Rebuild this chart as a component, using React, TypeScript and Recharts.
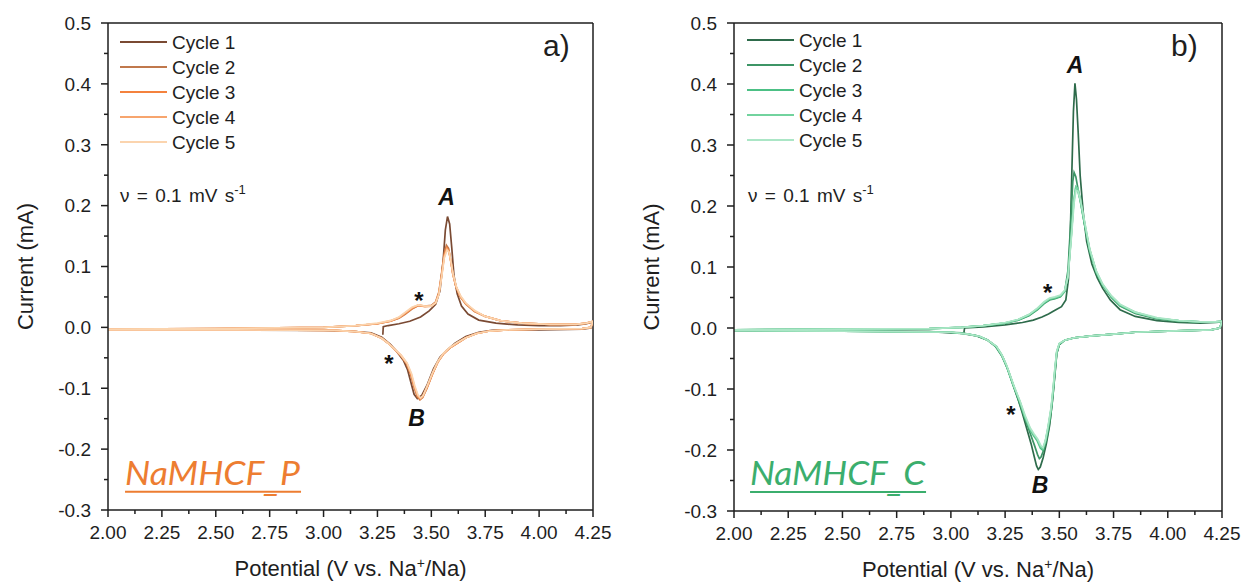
import React from 'react';
import { LineChart, Line, XAxis, YAxis, ReferenceLine, ReferenceDot, Legend } from 'recharts';

const FONT = '"Liberation Sans", Arial, sans-serif';
const INK = '#1e1e1e';

// ---------- axes ----------
const xTicks = [2, 2.125, 2.25, 2.375, 2.5, 2.625, 2.75, 2.875, 3, 3.125, 3.25, 3.375, 3.5, 3.625, 3.75, 3.875, 4, 4.125, 4.25];
const xMajor = [2, 2.25, 2.5, 2.75, 3, 3.25, 3.5, 3.75, 4, 4.25];
const yTicks = [-0.3, -0.25, -0.2, -0.15, -0.1, -0.05, 0, 0.05, 0.1, 0.15, 0.2, 0.25, 0.3, 0.35, 0.4, 0.45, 0.5];
const yMajor = [-0.3, -0.2, -0.1, 0, 0.1, 0.2, 0.3, 0.4, 0.5];

const cycleNames = ['Cycle 1', 'Cycle 2', 'Cycle 3', 'Cycle 4', 'Cycle 5'];
const pColors = ['#7a4a33', '#c0784c', '#f4823d', '#f7a56e', '#fbd4ae'];
const cColors = ['#2e6b4b', '#3d9566', '#4cc085', '#72d39e', '#abe6c6'];

type Pt = [number, number];

// ---------- NaMHCF_P (potential V, current mA) ----------
const pCycle1: Pt[] = [
  [3.275, -0.012], [3.277, 0.001], [3.30, 0.003], [3.35, 0.006], [3.40, 0.010], [3.45, 0.017], [3.49, 0.027], [3.52, 0.038],
  [3.54, 0.060], [3.555, 0.110], [3.565, 0.160], [3.575, 0.182], [3.585, 0.170], [3.595, 0.130], [3.605, 0.085], [3.62, 0.055],
  [3.64, 0.035], [3.67, 0.022], [3.72, 0.012], [3.80, 0.007], [3.90, 0.004], [4.00, 0.003], [4.10, 0.003], [4.18, 0.004],
  [4.22, 0.006], [4.25, 0.009],
  [4.24, -0.001], [4.20, -0.003], [4.00, -0.004], [3.85, -0.004], [3.78, -0.005], [3.72, -0.008], [3.66, -0.015], [3.61, -0.026],
  [3.57, -0.038], [3.54, -0.049], [3.51, -0.068], [3.48, -0.095], [3.455, -0.112], [3.435, -0.117], [3.42, -0.110], [3.405, -0.090],
  [3.39, -0.070], [3.37, -0.054], [3.34, -0.040], [3.31, -0.028], [3.27, -0.016], [3.22, -0.009], [3.12, -0.006], [3.00, -0.005],
  [2.50, -0.004], [2.00, -0.004],
];
const pCycle2: Pt[] = [
  [2.00, -0.003], [2.50, -0.002], [3.00, 0.000], [3.15, 0.003], [3.25, 0.006], [3.31, 0.010], [3.35, 0.015], [3.38, 0.022],
  [3.41, 0.030], [3.44, 0.036], [3.47, 0.035], [3.50, 0.036], [3.52, 0.042], [3.535, 0.058], [3.548, 0.090], [3.56, 0.122],
  [3.57, 0.135], [3.58, 0.130], [3.59, 0.110], [3.60, 0.088], [3.615, 0.066], [3.635, 0.050], [3.66, 0.038], [3.70, 0.026],
  [3.75, 0.018], [3.82, 0.011], [3.92, 0.007], [4.05, 0.005], [4.17, 0.005], [4.22, 0.007], [4.25, 0.010],
  [4.24, 0.000], [4.20, -0.002], [4.00, -0.003], [3.85, -0.004], [3.77, -0.006], [3.71, -0.010], [3.66, -0.017], [3.62, -0.026],
  [3.585, -0.034], [3.555, -0.044], [3.53, -0.057], [3.505, -0.077], [3.48, -0.100], [3.46, -0.115], [3.447, -0.119], [3.435, -0.114],
  [3.42, -0.098], [3.405, -0.078], [3.385, -0.060], [3.36, -0.047], [3.33, -0.036], [3.30, -0.026], [3.27, -0.018], [3.22, -0.010],
  [3.15, -0.007], [3.05, -0.005], [2.50, -0.004], [2.00, -0.004],
];
const pCycle3: Pt[] = [
  [2.00, -0.003], [2.50, -0.002], [3.00, 0.000], [3.15, 0.003], [3.25, 0.006], [3.31, 0.010], [3.35, 0.016], [3.38, 0.023],
  [3.41, 0.031], [3.44, 0.036], [3.47, 0.034], [3.50, 0.035], [3.52, 0.041], [3.535, 0.056], [3.548, 0.087], [3.56, 0.118],
  [3.571, 0.131], [3.581, 0.126], [3.591, 0.107], [3.60, 0.087], [3.615, 0.066], [3.635, 0.050], [3.66, 0.039], [3.70, 0.027],
  [3.75, 0.018], [3.82, 0.011], [3.92, 0.007], [4.05, 0.005], [4.17, 0.005], [4.22, 0.007], [4.25, 0.010],
  [4.24, 0.000], [4.20, -0.002], [4.00, -0.003], [3.85, -0.004], [3.77, -0.006], [3.71, -0.010], [3.66, -0.017], [3.62, -0.026],
  [3.585, -0.034], [3.555, -0.044], [3.53, -0.057], [3.505, -0.077], [3.48, -0.099], [3.46, -0.114], [3.448, -0.118], [3.436, -0.113],
  [3.42, -0.097], [3.405, -0.077], [3.385, -0.059], [3.36, -0.047], [3.33, -0.036], [3.30, -0.026], [3.27, -0.018], [3.22, -0.010],
  [3.15, -0.007], [3.05, -0.005], [2.50, -0.004], [2.00, -0.004],
];
const pCycle4: Pt[] = [
  [2.00, -0.003], [2.50, -0.002], [3.00, 0.000], [3.15, 0.003], [3.25, 0.006], [3.31, 0.011], [3.35, 0.016], [3.38, 0.024],
  [3.41, 0.032], [3.44, 0.037], [3.47, 0.035], [3.50, 0.035], [3.52, 0.040], [3.535, 0.055], [3.548, 0.085], [3.56, 0.116],
  [3.572, 0.129], [3.582, 0.124], [3.592, 0.105], [3.60, 0.087], [3.615, 0.067], [3.635, 0.051], [3.66, 0.039], [3.70, 0.027],
  [3.75, 0.018], [3.82, 0.011], [3.92, 0.007], [4.05, 0.005], [4.17, 0.005], [4.22, 0.007], [4.25, 0.010],
  [4.24, 0.000], [4.20, -0.002], [4.00, -0.003], [3.85, -0.004], [3.77, -0.006], [3.71, -0.010], [3.66, -0.017], [3.62, -0.026],
  [3.585, -0.034], [3.555, -0.044], [3.53, -0.057], [3.505, -0.076], [3.48, -0.098], [3.46, -0.113], [3.449, -0.117], [3.437, -0.112],
  [3.422, -0.097], [3.407, -0.077], [3.387, -0.059], [3.36, -0.046], [3.33, -0.036], [3.30, -0.026], [3.27, -0.018], [3.22, -0.010],
  [3.15, -0.007], [3.05, -0.005], [2.50, -0.004], [2.00, -0.004],
];
const pCycle5: Pt[] = [
  [2.00, -0.003], [2.50, -0.002], [3.00, 0.000], [3.15, 0.003], [3.25, 0.007], [3.31, 0.011], [3.35, 0.017], [3.38, 0.025],
  [3.41, 0.033], [3.44, 0.037], [3.47, 0.035], [3.50, 0.035], [3.52, 0.040], [3.535, 0.054], [3.548, 0.083], [3.56, 0.114],
  [3.573, 0.127], [3.583, 0.123], [3.593, 0.104], [3.602, 0.086], [3.617, 0.066], [3.637, 0.051], [3.66, 0.040], [3.70, 0.028],
  [3.75, 0.018], [3.82, 0.011], [3.92, 0.007], [4.05, 0.005], [4.17, 0.005], [4.22, 0.007], [4.25, 0.010],
  [4.24, 0.000], [4.20, -0.002], [4.00, -0.003], [3.85, -0.004], [3.77, -0.006], [3.71, -0.010], [3.66, -0.017], [3.62, -0.025],
  [3.585, -0.033], [3.555, -0.043], [3.53, -0.056], [3.505, -0.075], [3.48, -0.097], [3.462, -0.112], [3.45, -0.116], [3.438, -0.111],
  [3.423, -0.096], [3.408, -0.076], [3.388, -0.059], [3.36, -0.046], [3.33, -0.036], [3.30, -0.026], [3.27, -0.018], [3.22, -0.010],
  [3.15, -0.007], [3.05, -0.005], [2.50, -0.004], [2.00, -0.004],
];

// ---------- NaMHCF_C (potential V, current mA) ----------
const cCycle1: Pt[] = [
  [3.06, -0.008], [3.063, 0.000], [3.15, 0.002], [3.25, 0.005], [3.33, 0.009], [3.38, 0.013], [3.42, 0.018], [3.45, 0.023],
  [3.48, 0.029], [3.51, 0.035], [3.53, 0.046], [3.542, 0.080], [3.551, 0.160], [3.558, 0.260], [3.565, 0.355], [3.572, 0.401],
  [3.579, 0.375], [3.587, 0.320], [3.596, 0.250], [3.61, 0.190], [3.626, 0.142], [3.65, 0.105], [3.675, 0.082], [3.70, 0.065],
  [3.735, 0.046], [3.78, 0.030], [3.85, 0.019], [3.95, 0.012], [4.05, 0.009], [4.15, 0.008], [4.22, 0.009], [4.25, 0.010],
  [4.24, 0.000], [4.20, -0.003], [4.00, -0.005], [3.85, -0.007], [3.75, -0.010], [3.65, -0.013], [3.57, -0.016], [3.525, -0.020],
  [3.50, -0.027], [3.488, -0.042], [3.48, -0.075], [3.468, -0.120], [3.455, -0.160], [3.44, -0.190], [3.425, -0.213], [3.412, -0.228],
  [3.403, -0.232], [3.395, -0.226], [3.385, -0.212], [3.37, -0.190], [3.35, -0.165], [3.33, -0.140], [3.31, -0.117], [3.29, -0.096],
  [3.265, -0.070], [3.24, -0.048], [3.21, -0.031], [3.17, -0.020], [3.12, -0.013], [3.05, -0.009], [2.90, -0.006], [2.50, -0.005],
  [2.00, -0.004],
];
const cCycle2: Pt[] = [
  [2.00, -0.003], [2.50, -0.002], [2.90, -0.001], [3.05, 0.001], [3.15, 0.004], [3.25, 0.008], [3.31, 0.013], [3.36, 0.020],
  [3.40, 0.030], [3.43, 0.040], [3.455, 0.046], [3.48, 0.048], [3.505, 0.051], [3.525, 0.060], [3.54, 0.095], [3.552, 0.170],
  [3.562, 0.240], [3.568, 0.255], [3.576, 0.248], [3.586, 0.228], [3.60, 0.203], [3.615, 0.172], [3.64, 0.128], [3.67, 0.092],
  [3.70, 0.070], [3.74, 0.050], [3.78, 0.036], [3.85, 0.024], [3.95, 0.015], [4.05, 0.011], [4.15, 0.010], [4.22, 0.010], [4.25, 0.011],
  [4.24, 0.000], [4.20, -0.003], [4.00, -0.005], [3.85, -0.007], [3.75, -0.010], [3.65, -0.013], [3.57, -0.016], [3.525, -0.020],
  [3.50, -0.027], [3.488, -0.042], [3.48, -0.072], [3.47, -0.112], [3.458, -0.150], [3.443, -0.180], [3.428, -0.200], [3.415, -0.212],
  [3.408, -0.214], [3.40, -0.208], [3.385, -0.192], [3.365, -0.172], [3.345, -0.152], [3.325, -0.132], [3.305, -0.112], [3.285, -0.092],
  [3.26, -0.066], [3.235, -0.046], [3.205, -0.030], [3.165, -0.019], [3.12, -0.013], [3.05, -0.008], [2.90, -0.006], [2.50, -0.005],
  [2.00, -0.004],
];
const cCycle3: Pt[] = [
  [2.00, -0.003], [2.50, -0.002], [2.90, -0.001], [3.05, 0.001], [3.15, 0.004], [3.25, 0.008], [3.31, 0.013], [3.36, 0.021],
  [3.40, 0.031], [3.43, 0.041], [3.455, 0.047], [3.48, 0.049], [3.505, 0.052], [3.525, 0.060], [3.54, 0.085], [3.555, 0.150],
  [3.566, 0.205], [3.575, 0.228], [3.584, 0.226], [3.595, 0.211], [3.61, 0.182], [3.64, 0.126], [3.67, 0.091], [3.70, 0.070],
  [3.74, 0.051], [3.78, 0.037], [3.85, 0.025], [3.95, 0.016], [4.05, 0.012], [4.15, 0.010], [4.22, 0.010], [4.25, 0.011],
  [4.24, 0.000], [4.20, -0.003], [4.00, -0.005], [3.85, -0.007], [3.75, -0.010], [3.65, -0.013], [3.57, -0.016], [3.525, -0.020],
  [3.50, -0.026], [3.488, -0.040], [3.48, -0.068], [3.472, -0.100], [3.462, -0.134], [3.448, -0.165], [3.435, -0.188], [3.423, -0.200],
  [3.413, -0.197], [3.398, -0.185], [3.38, -0.176], [3.365, -0.167], [3.34, -0.145], [3.32, -0.123], [3.29, -0.096], [3.257, -0.063],
  [3.235, -0.045], [3.21, -0.031], [3.17, -0.020], [3.134, -0.014], [3.08, -0.010], [3.00, -0.007], [2.50, -0.005], [2.00, -0.004],
];
const cCycle4: Pt[] = [
  [2.00, -0.003], [2.50, -0.002], [2.90, -0.001], [3.05, 0.001], [3.15, 0.004], [3.25, 0.008], [3.31, 0.014], [3.36, 0.022],
  [3.40, 0.032], [3.43, 0.042], [3.455, 0.048], [3.48, 0.050], [3.505, 0.053], [3.525, 0.061], [3.54, 0.086], [3.555, 0.152],
  [3.567, 0.210], [3.576, 0.232], [3.585, 0.229], [3.596, 0.213], [3.61, 0.185], [3.64, 0.129], [3.67, 0.093], [3.70, 0.071],
  [3.74, 0.052], [3.78, 0.038], [3.85, 0.026], [3.95, 0.016], [4.05, 0.012], [4.15, 0.010], [4.22, 0.010], [4.25, 0.011],
  [4.24, 0.000], [4.20, -0.003], [4.00, -0.005], [3.85, -0.007], [3.75, -0.010], [3.65, -0.013], [3.57, -0.016], [3.525, -0.020],
  [3.50, -0.026], [3.488, -0.039], [3.48, -0.066], [3.472, -0.098], [3.462, -0.132], [3.448, -0.163], [3.435, -0.186], [3.424, -0.198],
  [3.414, -0.195], [3.399, -0.183], [3.38, -0.174], [3.365, -0.165], [3.34, -0.144], [3.32, -0.122], [3.29, -0.095], [3.257, -0.062],
  [3.235, -0.044], [3.21, -0.030], [3.17, -0.020], [3.134, -0.014], [3.08, -0.010], [3.00, -0.007], [2.50, -0.005], [2.00, -0.004],
];
const cCycle5: Pt[] = [
  [2.00, -0.003], [2.50, -0.002], [2.90, -0.001], [3.05, 0.001], [3.15, 0.004], [3.25, 0.009], [3.31, 0.014], [3.36, 0.022],
  [3.40, 0.033], [3.43, 0.043], [3.455, 0.049], [3.48, 0.051], [3.505, 0.054], [3.525, 0.062], [3.54, 0.084], [3.555, 0.146],
  [3.568, 0.205], [3.577, 0.226], [3.586, 0.224], [3.597, 0.210], [3.612, 0.183], [3.64, 0.130], [3.67, 0.094], [3.70, 0.072],
  [3.74, 0.053], [3.78, 0.039], [3.85, 0.026], [3.95, 0.017], [4.05, 0.012], [4.15, 0.010], [4.22, 0.010], [4.25, 0.011],
  [4.24, 0.000], [4.20, -0.003], [4.00, -0.005], [3.85, -0.007], [3.75, -0.010], [3.65, -0.013], [3.57, -0.016], [3.525, -0.020],
  [3.50, -0.025], [3.488, -0.038], [3.48, -0.064], [3.472, -0.096], [3.462, -0.130], [3.448, -0.161], [3.436, -0.184], [3.425, -0.196],
  [3.415, -0.193], [3.40, -0.182], [3.382, -0.173], [3.366, -0.164], [3.342, -0.143], [3.32, -0.121], [3.29, -0.094], [3.257, -0.061],
  [3.235, -0.044], [3.21, -0.030], [3.17, -0.020], [3.134, -0.014], [3.08, -0.010], [3.00, -0.007], [2.50, -0.005], [2.00, -0.004],
];

const pCycles = [pCycle1, pCycle2, pCycle3, pCycle4, pCycle5];
const cCycles = [cCycle1, cCycle2, cCycle3, cCycle4, cCycle5];

const toRows = (pts: Pt[]) => pts.map(([v, i]) => ({ v, i }));
const isMajor = (v: number, majors: number[]) => majors.some((m) => Math.abs(m - v) < 1e-9);

// ---------- rendering helpers ----------
const XTick = (props: any) => {
  const { x, y, payload } = props;
  const v = payload.value;
  const major = isMajor(v, xMajor);
  return (
    <g>
      <line x1={x} x2={x} y1={y} y2={y + (major ? 7 : 4)} stroke={INK} strokeWidth={1.5} />
      {major && (
        <text x={x} y={y + 29} textAnchor="middle" fontFamily={FONT} fontSize={19} fill={INK}>
          {v.toFixed(2)}
        </text>
      )}
    </g>
  );
};

const YTick = (props: any) => {
  const { x, y, payload } = props;
  const v = payload.value;
  const major = isMajor(v, yMajor);
  return (
    <g>
      <line x1={x - (major ? 7 : 4)} x2={x} y1={y} y2={y} stroke={INK} strokeWidth={1.5} />
      {major && (
        <text x={x - 17} y={y} dy="0.36em" textAnchor="end" fontFamily={FONT} fontSize={19} fill={INK}>
          {v.toFixed(1)}
        </text>
      )}
    </g>
  );
};

const XTitle = (props: any) => {
  const vb = props.viewBox || {};
  const cx = vb.x + vb.width / 2;
  const y = vb.y + 66;
  return (
    <text x={cx} y={y} textAnchor="middle" fontFamily={FONT} fontSize={22} fill={INK}>
      Potential (V vs. Na
      <tspan dy={-8} fontSize={14}>+</tspan>
      <tspan dy={8}>/Na)</tspan>
    </text>
  );
};

const YTitle = (props: any) => {
  const vb = props.viewBox || {};
  const x = vb.x + vb.width - 83;
  const cy = vb.y + vb.height / 2;
  return (
    <text x={x} y={cy} dy="0.36em" transform={`rotate(-90 ${x} ${cy})`} textAnchor="middle" fontFamily={FONT} fontSize={22} fill={INK}>
      Current (mA)
    </text>
  );
};

const LegendBox = (props: any) => {
  const payload = props.payload || [];
  return (
    <div style={{ fontFamily: FONT, fontSize: 19, color: INK }}>
      {payload.map((p: any) => (
        <div key={p.value} style={{ display: 'flex', alignItems: 'center', height: 25 }}>
          <svg width={47} height={4} style={{ marginRight: 5, display: 'block' }}>
            <line x1={0} x2={47} y1={2} y2={2} stroke={p.color} strokeWidth={2} />
          </svg>
          <span style={{ lineHeight: '25px' }}>{p.value}</span>
        </div>
      ))}
    </div>
  );
};

const letter = (t: string, size: number, shift: string) => (p: any) => (
  <text x={p.cx} y={p.cy} dy={shift} textAnchor="middle" fontFamily={FONT} fontSize={size} fontWeight="bold" fontStyle="italic" fill="#111">
    {t}
  </text>
);

const plainText = (t: string, size: number) => (p: any) => (
  <text x={p.cx} y={p.cy} textAnchor="start" fontFamily={FONT} fontSize={size} fill={INK}>
    {t}
  </text>
);

const rateText = (p: any) => (
  <text x={p.cx} y={p.cy} textAnchor="start" fontFamily={FONT} fontSize={19} fill={INK} wordSpacing={2}>
    ν = 0.1 mV s
    <tspan dy={-8} fontSize={13}>-1</tspan>
  </text>
);

const nameText = (stem: string, suffix: string, color: string) => (p: any) => (
  <g>
    <text x={p.cx} y={p.cy} textAnchor="start" fontFamily="Lato, 'Open Sans', sans-serif" fontStyle="italic" fontSize={32} fill={color} textLength={175} lengthAdjust="spacingAndGlyphs">
      {stem}
      <tspan dy={6}>_</tspan>
      <tspan dy={-6}>{suffix}</tspan>
    </text>
    <line x1={p.cx} x2={p.cx + 176} y1={p.cy + 7} y2={p.cy + 7} stroke={color} strokeWidth={2} />
  </g>
);

type PanelProps = {
  cycles: Pt[][];
  colors: string[];
  width: number;
  margin: { top: number; right: number; bottom: number; left: number };
  tag: string;
  tagAt: Pt;
  nameStem: string;
  nameSuffix: string;
  nameColor: string;
  nameAt: Pt;
  rateAt: Pt;
  aAt: Pt;
  bAt: Pt;
  star1: Pt;
  star2: Pt;
  legendLeft: number;
  legendTop: number;
};

function Panel(props: PanelProps) {
  const { cycles, colors, width, margin } = props;
  return (
    <LineChart width={width} height={584} margin={margin}>
      <XAxis
        type="number"
        dataKey="v"
        domain={[2, 4.25]}
        ticks={xTicks}
        interval={0}
        allowDataOverflow
        tick={<XTick />}
        tickLine={false}
        tickSize={0}
        tickMargin={0}
        height={40}
        axisLine={{ stroke: INK, strokeWidth: 1.5 }}
        label={<XTitle />}
      />
      <YAxis
        type="number"
        domain={[-0.3, 0.5]}
        ticks={yTicks}
        interval={0}
        allowDataOverflow
        tick={<YTick />}
        tickLine={false}
        tickSize={0}
        tickMargin={0}
        width={60}
        axisLine={{ stroke: INK, strokeWidth: 1.5 }}
        label={<YTitle />}
      />
      <ReferenceLine y={0.5} stroke={INK} strokeWidth={1.5} />
      <ReferenceLine x={4.25} stroke={INK} strokeWidth={1.5} />
      {cycles.map((pts, k) => (
        <Line
          key={cycleNames[k]}
          name={cycleNames[k]}
          data={toRows(pts)}
          dataKey="i"
          type="linear"
          stroke={colors[k]}
          strokeWidth={1.7}
          dot={false}
          activeDot={false}
          isAnimationActive={false}
        />
      ))}
      <Legend
        layout="vertical"
        align="center"
        verticalAlign="middle"
        content={(lp: any) => <LegendBox payload={lp.payload} />}
        wrapperStyle={{ left: props.legendLeft, top: props.legendTop, width: 'auto' }}
      />
      <ReferenceDot x={props.tagAt[0]} y={props.tagAt[1]} r={0} shape={plainText(props.tag, 30)} />
      <ReferenceDot x={props.rateAt[0]} y={props.rateAt[1]} r={0} shape={rateText} />
      <ReferenceDot x={props.nameAt[0]} y={props.nameAt[1]} r={0} shape={nameText(props.nameStem, props.nameSuffix, props.nameColor)} />
      <ReferenceDot x={props.aAt[0]} y={props.aAt[1]} r={0} shape={letter('A', 23, '0.36em')} />
      <ReferenceDot x={props.bAt[0]} y={props.bAt[1]} r={0} shape={letter('B', 23, '0.36em')} />
      <ReferenceDot x={props.star1[0]} y={props.star1[1]} r={0} shape={letter('*', 24, '0.55em')} />
      <ReferenceDot x={props.star2[0]} y={props.star2[1]} r={0} shape={letter('*', 24, '0.55em')} />
    </LineChart>
  );
}

export default function App() {
  return (
    <div style={{ position: 'absolute', left: 0, top: 0, width: 1244, height: 584, background: '#fff' }}>
      <div style={{ position: 'absolute', left: 0, top: 0 }}>
        <Panel
          cycles={pCycles}
          colors={pColors}
          width={620}
          margin={{ top: 23, right: 27, bottom: 34, left: 48 }}
          tag="a)"
          tagAt={[4.018, 0.4458]}
          nameStem="NaMHCF"
          nameSuffix="P"
          nameColor="#ed7d31"
          nameAt={[2.079, -0.2586]}
          rateAt={[2.056, 0.206]}
          aAt={[3.571, 0.215]}
          bAt={[3.432, -0.149]}
          star1={[3.438, 0.052]}
          star2={[3.299, -0.052]}
          legendLeft={120}
          legendTop={29.5}
        />
      </div>
      <div style={{ position: 'absolute', left: 620, top: 0 }}>
        <Panel
          cycles={cCycles}
          colors={cColors}
          width={624}
          margin={{ top: 23, right: 22, bottom: 33, left: 54 }}
          tag="b)"
          tagAt={[4.015, 0.446]}
          nameStem="NaMHCF"
          nameSuffix="C"
          nameColor="#3bae6d"
          nameAt={[2.074, -0.2574]}
          rateAt={[2.065, 0.2066]}
          aAt={[3.572, 0.431]}
          bAt={[3.411, -0.257]}
          star1={[3.442, 0.066]}
          star2={[3.272, -0.134]}
          legendLeft={127}
          legendTop={27.5}
        />
      </div>
    </div>
  );
}
